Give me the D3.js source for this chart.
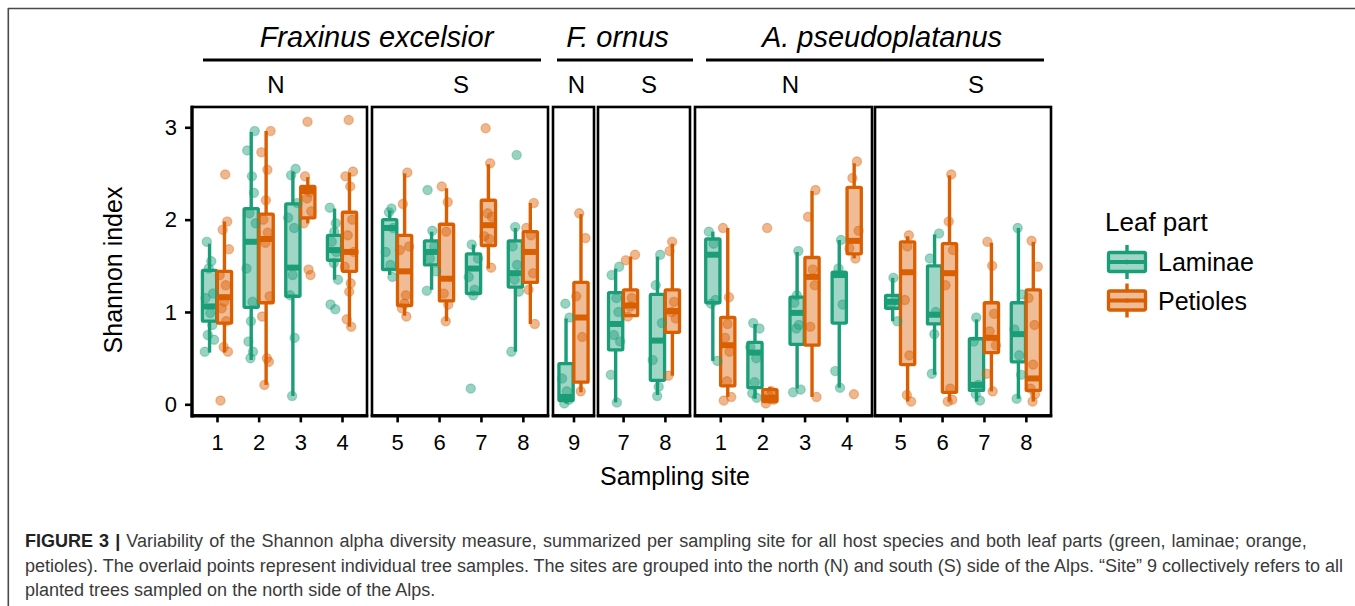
<!DOCTYPE html>
<html><head><meta charset="utf-8">
<script src="https://cdn.jsdelivr.net/npm/d3@7"></script>
<style>
body{margin:0;background:#fff}
svg{display:block}
text{font-family:"Liberation Sans",Arial,Helvetica,sans-serif}
</style>
</head><body>
<svg id="chart" width="1355" height="606"></svg>
<script>
// ---------------- DATA ----------------
const speciesNames = ["Fraxinus excelsior", "F. ornus", "A. pseudoplatanus"];
const panelSpecies = [0, 0, 1, 1, 2, 2];
const panelSides = ["N", "S", "N", "S", "N", "S"];
const panelSites = [["1","2","3","4"], ["5","6","7","8"], ["9"], ["7","8"], ["1","2","3","4"], ["5","6","7","8"]];
const leafParts = ["Laminae", "Petioles"];
const yTicks = [0, 1, 2, 3];

// box statistics per panel, per site: [lower whisker, Q1, median, Q3, upper whisker]
const laminaeBoxes = [
  [[0.56,0.90,1.06,1.45,1.74],[0.48,1.05,1.76,2.12,2.95],[0.09,1.17,1.48,2.17,2.52],[1.35,1.56,1.67,1.83,2.12]],
  [[1.40,1.46,1.91,2.00,2.10],[1.24,1.51,1.65,1.77,1.87],[1.18,1.20,1.47,1.63,1.73],[0.57,1.27,1.42,1.77,1.91]],
  [[0.01,0.04,0.08,0.44,0.93]],
  [[0.02,0.59,0.87,1.21,1.47],[0.10,0.26,0.69,1.19,1.60]],
  [[0.47,1.10,1.62,1.79,1.87],[0.06,0.18,0.56,0.67,0.87],[0.17,0.65,0.99,1.16,1.65],[0.18,0.88,1.40,1.43,1.78]],
  [[0.90,1.04,1.11,1.18,1.37],[0.32,0.87,0.97,1.50,1.84],[0.03,0.15,0.21,0.71,0.92],[0.06,0.46,0.76,1.10,1.91]]
];
const petiolesBoxes = [
  [[0.56,0.88,1.16,1.44,1.98],[0.21,1.10,1.79,2.06,2.96],[1.96,2.02,2.31,2.36,2.46],[0.84,1.44,1.65,2.08,2.51]],
  [[0.96,1.07,1.44,1.83,2.50],[0.90,1.12,1.36,1.95,2.34],[1.47,1.72,1.94,2.21,2.60],[0.87,1.32,1.65,1.87,2.18]],
  [[0.13,0.24,0.94,1.32,2.06]],
  [[0.95,0.96,1.07,1.24,1.60],[0.31,0.78,1.01,1.24,1.74]],
  [[0.08,0.20,0.64,0.94,1.91],[0.01,0.03,0.07,0.16,0.19],[0.08,0.64,1.38,1.59,2.31],[1.58,1.63,1.77,2.35,2.61]],
  [[0.03,0.43,1.43,1.76,1.82],[0.03,0.13,1.42,1.74,2.48],[0.14,0.56,0.72,1.10,1.75],[0.03,0.15,0.28,1.24,1.76]]
];
// individual tree samples per panel, per site
const laminaePoints = [
  [[1.76,1.55,1.47,1.20,1.15,0.99,0.86,0.75,0.70,0.57],
   [2.96,2.75,2.47,2.29,2.07,1.96,1.47,1.11,0.90,0.68,0.57,0.50],
   [2.55,2.48,2.18,2.02,1.91,1.40,1.18,0.72,0.09],
   [2.13,1.96,1.87,1.76,1.65,1.53,1.35,1.08,1.03]],
  [[2.12,2.08,1.91,1.65,1.51,1.38],
   [2.32,1.88,1.71,1.58,1.44,1.23],
   [1.73,1.58,1.38,1.24,1.18,0.17],
   [2.70,1.92,1.71,1.51,1.35,1.22,0.57]],
  [[1.09,0.94,0.28,0.14,0.05,0.01]],
  [[1.49,1.40,1.15,1.00,0.75,0.68,0.32,0.02],
   [1.62,1.29,0.88,0.48,0.19,0.09]],
  [[1.87,1.74,1.13,1.09,0.47],
   [0.88,0.82,0.62,0.50,0.24,0.12,0.07],
   [1.66,1.18,1.10,0.86,0.82,0.16,0.13],
   [1.78,1.47,1.08,0.36,0.18]],
  [[1.37,1.13,1.09,0.90],
   [1.85,1.58,1.00,0.76,0.33],
   [0.94,0.68,0.21,0.11,0.04],
   [1.91,1.19,0.81,0.53,0.32,0.06]]
];
const petiolesPoints = [
  [[2.49,1.98,1.89,1.68,1.40,1.29,1.11,1.04,0.90,0.62,0.57,0.04],
   [2.96,2.73,2.54,2.21,2.00,1.86,1.75,1.17,0.95,0.50,0.46,0.21],
   [3.06,2.47,2.30,2.23,2.09,1.96,1.46,1.40],
   [3.08,2.52,2.47,2.36,2.00,1.83,1.65,1.49,1.31,1.22,0.92,0.84]],
  [[2.51,2.17,1.71,1.67,1.18,1.09,1.04,0.95],
   [2.36,2.19,1.87,1.20,1.08,0.90],
   [2.99,2.61,2.07,2.03,1.82,1.79,1.48],
   [2.18,1.91,1.83,1.42,1.24,0.87]],
  [[2.07,1.80,1.17,0.73,0.14]],
  [[1.62,1.56,1.15,1.06,0.95],
   [1.76,1.66,1.11,1.00,0.93,0.31]],
  [[1.91,1.16,0.87,0.72,0.57,0.25,0.08,0.04],
   [1.91,0.14,0.09,0.05,0.01],
   [2.32,2.03,1.46,1.29,0.84,0.08],
   [2.63,2.45,1.88,1.69,1.58,0.11]],
  [[1.83,1.71,1.13,0.53,0.10,0.03],
   [2.49,1.98,1.67,1.29,0.17,0.05,0.03],
   [1.76,1.50,0.98,0.79,0.64,0.33,0.14],
   [1.77,1.49,1.15,0.86,0.43,0.17,0.11,0.03]]
];

const captionLines = [
  [["FIGURE 3 | ", true], ["Variability of the Shannon alpha diversity measure, summarized per sampling site for all host species and both leaf parts (green, laminae; orange,", false]],
  [["petioles). The overlaid points represent individual tree samples. The sites are grouped into the north (N) and south (S) side of the Alps. \u201cSite\u201d 9 collectively refers to all", false]],
  [["planted trees sampled on the north side of the Alps.", false]]
];

// ---------------- LAYOUT / STYLE ----------------
const colors = {Laminae: "#1b9e77", Petioles: "#d95f02"};
const panelX = [[192,367],[372,548],[553,594],[598,690],[695,872],[875,1051]];
const speciesLabelX = [376.5, 617.5, 882];
const speciesLineX = [[203,541],[557,693],[706,1044]];
const sideLabelX = [276, 461, 576.5, 649, 790.5, 976];
const captionWordSpacing = [1.1, 0, 0];
const jitterPattern = [-0.55,0.35,-0.15,0.7,-0.8,0.15,0.55,-0.35,0.9,-0.95,0.25,-0.05];

const svg = d3.select("#chart");
svg.append("rect").attr("width",1355).attr("height",606).attr("fill","#fff");

// outer frame
svg.append("line").attr("x1",8).attr("x2",1355).attr("y1",8.5).attr("y2",8.5).attr("stroke","#4a4a4a").attr("stroke-width",1.6);
svg.append("line").attr("x1",8.3).attr("x2",8.3).attr("y1",8).attr("y2",606).attr("stroke","#4a4a4a").attr("stroke-width",1.6);

const y = d3.scaleLinear().domain([0,3]).range([404.3,127.3]);
const panelTop = y(3.22), panelBottom = y(-0.12);

const xScales = panelX.map((r,i) => d3.scalePoint().domain(panelSites[i]).range(r).padding(0.6));
const unit = xScales[1].step();
const dodge = 0.178*unit, boxW = 0.34*unit;

const plot = svg.append("g");

panelX.forEach((r,pi) => {
  const xs = xScales[pi];
  const g = plot.append("g");
  panelSites[pi].forEach((site, si) => {
    leafParts.forEach((part, li) => {
      const st = (li===0 ? laminaeBoxes : petiolesBoxes)[pi][si];
      const cx = xs(site) + (li===0 ? -dodge : dodge);
      const col = colors[part];
      const bg = g.append("g");
      bg.append("line").attr("x1",cx).attr("x2",cx).attr("y1",y(st[4])).attr("y2",y(st[3]))
        .attr("stroke",col).attr("stroke-width",3.4);
      bg.append("line").attr("x1",cx).attr("x2",cx).attr("y1",y(st[1])).attr("y2",y(st[0]))
        .attr("stroke",col).attr("stroke-width",3.4);
      bg.append("rect").attr("x",cx-boxW/2).attr("width",boxW)
        .attr("y",y(st[3])).attr("height",Math.max(0.5,y(st[1])-y(st[3])))
        .attr("fill",col).attr("fill-opacity",0.42)
        .attr("stroke",col).attr("stroke-width",3.3).attr("rx",1);
      bg.append("line").attr("x1",cx-boxW/2).attr("x2",cx+boxW/2).attr("y1",y(st[2])).attr("y2",y(st[2]))
        .attr("stroke",col).attr("stroke-width",6);
    });
  });
  // points
  panelSites[pi].forEach((site, si) => {
    leafParts.forEach((part, li) => {
      const pts = (li===0 ? laminaePoints : petiolesPoints)[pi][si];
      const cx = xs(site) + (li===0 ? -dodge : dodge);
      const col = colors[part];
      g.selectAll(null).data(pts).enter().append("circle")
        .attr("cx",(d,k) => cx + jitterPattern[(k + si*3 + li*5 + pi) % jitterPattern.length]*5)
        .attr("cy",d => y(d)).attr("r",4.6)
        .attr("fill",col).attr("fill-opacity",0.45)
        .attr("stroke",col).attr("stroke-opacity",0.35).attr("stroke-width",1.3);
    });
  });
  // panel border
  plot.append("rect").attr("x",r[0]).attr("y",panelTop).attr("width",r[1]-r[0]).attr("height",panelBottom-panelTop)
    .attr("fill","none").attr("stroke","#000").attr("stroke-width",2.6);
  // bottom axis line + ticks
  plot.append("line").attr("x1",r[0]-1.3).attr("x2",r[1]+1.3).attr("y1",panelBottom+0.6).attr("y2",panelBottom+0.6)
    .attr("stroke","#000").attr("stroke-width",3.2);
  const ax = plot.append("g").attr("transform",`translate(0,${panelBottom})`)
    .call(d3.axisBottom(xs).tickSize(7).tickPadding(12));
  ax.select(".domain").remove();
  ax.selectAll(".tick line").attr("stroke","#000").attr("stroke-width",2.6);
  ax.selectAll(".tick text").attr("font-size",22).attr("fill","#000")
    .attr("font-family",'"Liberation Sans",Arial,sans-serif');
  // side label
  svg.append("text").attr("x",sideLabelX[pi]).attr("y",93).attr("text-anchor","middle")
    .attr("font-size",24).attr("fill","#000").text(panelSides[pi]);
});

// y axis
plot.append("line").attr("x1",192).attr("x2",192).attr("y1",panelTop-1.3).attr("y2",panelBottom+2)
  .attr("stroke","#000").attr("stroke-width",3.2);
const ay = plot.append("g").attr("transform","translate(192,0)")
  .call(d3.axisLeft(y).tickValues(yTicks).tickFormat(d3.format("d")).tickSize(7).tickPadding(8));
ay.select(".domain").remove();
ay.selectAll(".tick line").attr("stroke","#000").attr("stroke-width",2.6);
ay.selectAll(".tick text").attr("font-size",22).attr("fill","#000")
  .attr("font-family",'"Liberation Sans",Arial,sans-serif');

// species strips
speciesNames.forEach((s,i) => {
  svg.append("text").attr("x",speciesLabelX[i]).attr("y",47).attr("text-anchor","middle")
    .attr("font-size",29).attr("font-style","italic").attr("fill","#000").text(s);
  svg.append("line").attr("x1",speciesLineX[i][0]).attr("x2",speciesLineX[i][1]).attr("y1",60).attr("y2",60)
    .attr("stroke","#000").attr("stroke-width",3.2);
});

// axis titles
svg.append("text").attr("x",675).attr("y",485).attr("text-anchor","middle")
  .attr("font-size",25).attr("fill","#000").text("Sampling site");
svg.append("text").attr("transform","translate(122,270) rotate(-90)").attr("text-anchor","middle")
  .attr("font-size",25).attr("fill","#000").text("Shannon index");

// legend
svg.append("text").attr("x",1105).attr("y",231).attr("font-size",26).attr("fill","#000").text("Leaf part");
leafParts.forEach((part,i) => {
  const cy = 262 + i*38.5, cx = 1127, col = colors[part];
  const lg = svg.append("g");
  lg.append("line").attr("x1",cx).attr("x2",cx).attr("y1",cy-17).attr("y2",cy+17).attr("stroke",col).attr("stroke-width",3.4);
  lg.append("rect").attr("x",cx-18.5).attr("y",cy-9.5).attr("width",37).attr("height",19).attr("rx",1.5)
    .attr("fill","#fff");
  lg.append("rect").attr("x",cx-18.5).attr("y",cy-9.5).attr("width",37).attr("height",19).attr("rx",1.5)
    .attr("fill",col).attr("fill-opacity",0.42).attr("stroke",col).attr("stroke-width",3.3);
  lg.append("line").attr("x1",cx-18.5).attr("x2",cx+18.5).attr("y1",cy).attr("y2",cy).attr("stroke",col).attr("stroke-width",4);
  lg.append("circle").attr("cx",cx).attr("cy",cy).attr("r",2.5).attr("fill",col).attr("fill-opacity",0.5);
  svg.append("text").attr("x",1158).attr("y",cy+9).attr("font-size",25).attr("fill","#000").text(part);
});

// caption
captionLines.forEach((line,i) => {
  const t = svg.append("text").attr("x",25).attr("y",547 + i*24.5).attr("font-size",18).attr("fill","#333")
    .attr("word-spacing",captionWordSpacing[i]);
  line.forEach(([str,bold]) => {
    t.append("tspan").attr("font-weight",bold ? "bold" : "normal").attr("fill", bold ? "#222" : "#3a3a3a").text(str);
  });
});
</script>
</body></html>
